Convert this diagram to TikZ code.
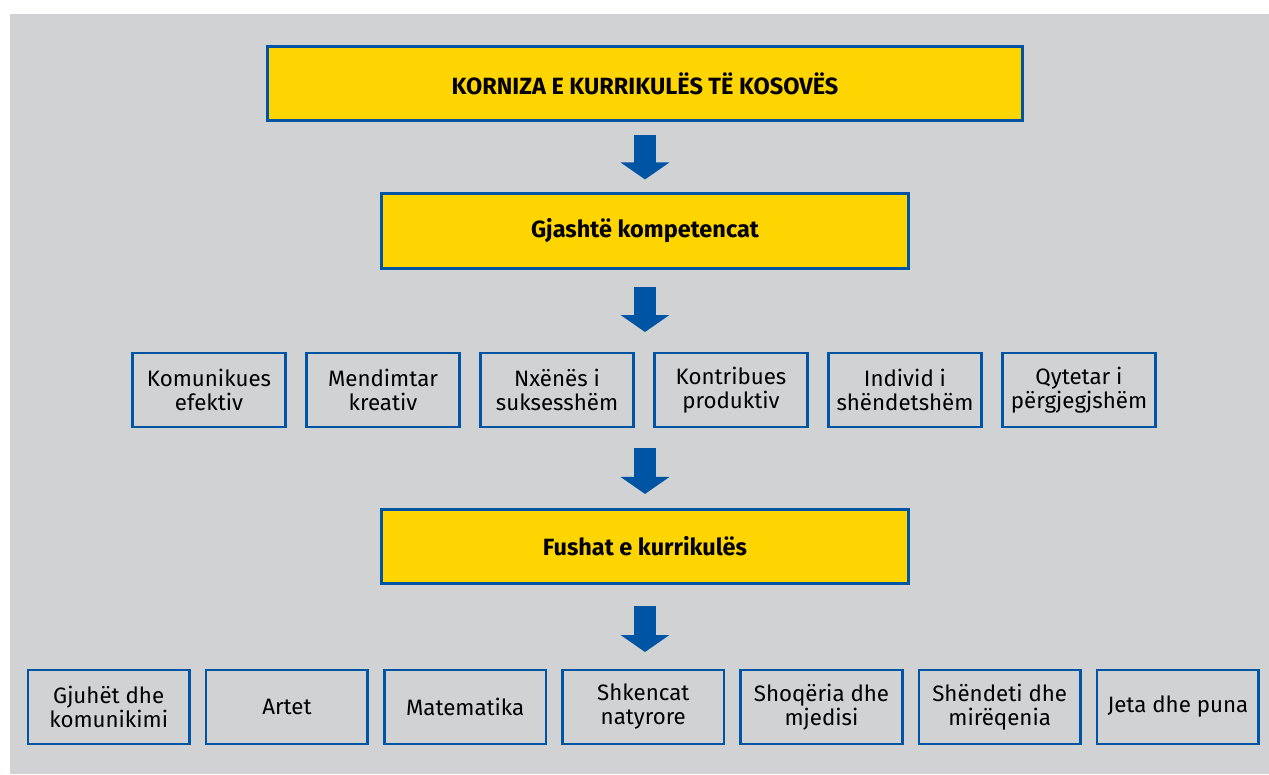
\documentclass[tikz,border=0pt]{standalone}
\usepackage{fontspec}
\setmainfont{Fira Sans}
\usepackage{tikz}
\usetikzlibrary{arrows.meta}

\definecolor{kkblue}{HTML}{0054A4}
\definecolor{kkyellow}{HTML}{FFD500}
\definecolor{kkgray}{HTML}{D1D2D4}

\begin{document}
\begin{tikzpicture}[x=1pt,y=-1pt,
    bigbox/.style={draw=kkblue,line width=2.6pt,fill=kkyellow,minimum height=74.5pt,
      inner sep=0pt,font=\fontsize{23.5}{24}\selectfont\bfseries,align=center},
    smallbox/.style={draw=kkblue,line width=2.6pt,minimum height=74pt,
      inner sep=0pt,font=\fontsize{22.3}{24}\selectfont,align=center},
    downarrow/.style={draw=kkblue,line width=22pt,
      -{Triangle[length=17pt,width=48pt]}}]
  \useasboundingbox (0,0) rectangle (1269,774);
  \fill[kkgray] (10,14) rectangle (1269,774);

  \node[bigbox,minimum width=755pt] (korniza) at (645,83.5) {KORNIZA E KURRIKULËS TË KOSOVËS};
  \node[bigbox,minimum width=527pt] (gjashte) at (645,231) {Gjashtë kompetencat};
  \node[bigbox,minimum width=527pt] (fushat) at (645,546.5) {Fushat e kurrikulës};

  % kompetencat
  \foreach \t [count=\i] in {Komunikues\\efektiv, Mendimtar\\kreativ, Nxënës i\\suksesshëm,
      Kontribues\\produktiv, Individ i\\shëndetshëm, Qytetar i\\përgjegjshëm}
    \node[smallbox,minimum width=153pt] (komp\i) at ({209+174*(\i-1)},390) {\t};

  % fushat
  \foreach \t [count=\i] in {Gjuhët dhe\\komunikimi, Artet, Matematika, Shkencat\\natyrore,
      Shoqëria dhe\\mjedisi, Shëndeti dhe\\mirëqenia, Jeta dhe puna}
    \node[smallbox,minimum width=161.5pt] (fush\i) at ({108.7+178.2*(\i-1)},707) {\t};

  \coordinate (kompTop) at (645,352);
  \coordinate (kompBot) at (645,428);
  \coordinate (fushTop) at (645,669);

  \draw[downarrow,shorten <=13pt,shorten >=13pt] (korniza.south) -- (gjashte.north);
  \draw[downarrow,shorten <=17pt,shorten >=20pt] (gjashte.south) -- (kompTop);
  \draw[downarrow,shorten <=20pt,shorten >=14pt] (kompBot) -- (fushat.north);
  \draw[downarrow,shorten <=21pt,shorten >=17pt] (fushat.south) -- (fushTop);
\end{tikzpicture}
\end{document}
